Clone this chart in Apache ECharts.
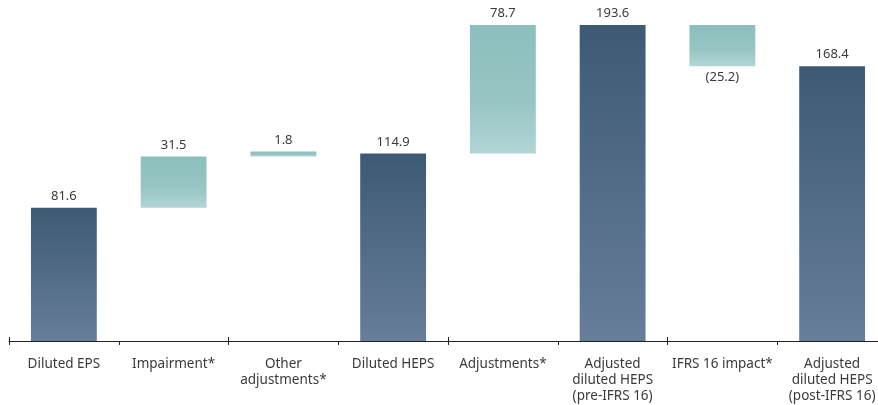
<!DOCTYPE html>
<html>
<head>
<meta charset="utf-8">
<script src="https://cdn.jsdelivr.net/npm/echarts@6/dist/echarts.min.js"></script>
<style>
  html, body { margin: 0; padding: 0; background: #fff; }
  #chart { width: 878px; height: 405px; }
</style>
</head>
<body>
<div id="chart"></div>
<script>
var categories = ['Diluted EPS', 'Impairment*', 'Other\nadjustments*', 'Diluted HEPS',
  'Adjustments*', 'Adjusted\ndiluted HEPS\n(pre-IFRS 16)', 'IFRS 16 impact*', 'Adjusted\ndiluted HEPS\n(post-IFRS 16)']
var values = [81.6, 31.5, 1.8, 114.9, 78.7, 193.6, -25.2, 168.4]
var isTotal = [true, false, false, true, false, true, false, true]

// waterfall: invisible base + visible part
var base = []
var visible = []
var running = 0
for (var i = 0; i < values.length; i++) {
  if (isTotal[i]) {
    base.push(0)
    visible.push(values[i])
    running = values[i]
  } else if (values[i] >= 0) {
    base.push(running)
    visible.push(values[i])
    running += values[i]
  } else {
    running += values[i]
    base.push(running)
    visible.push(-values[i])
  }
}

var darkFill = new echarts.graphic.LinearGradient(0, 0, 0, 1, [
  { offset: 0, color: '#3d5a75' },
  { offset: 1, color: '#677d99' }
])
var tealFill = new echarts.graphic.LinearGradient(0, 0, 0, 1, [
  { offset: 0, color: '#8bbfbd' },
  { offset: 0.6, color: '#97c5c3' },
  { offset: 1, color: '#b2d5d5' }
])

var font = 'Noto Sans'
var chart = echarts.init(document.getElementById('chart'))
chart.setOption({
  animation: false,
  grid: { left: 9, right: -9, top: 25, bottom: 64, outerBoundsMode: 'none' },
  xAxis: [
    {
      type: 'category',
      data: categories,
      axisLine: { lineStyle: { color: '#222', width: 1 } },
      axisTick: { show: true, length: 4, lineStyle: { color: '#222' } },
      axisLabel: {
        color: '#3a3a3a', fontFamily: font, fontSize: 13.5,
        lineHeight: 16, margin: 15, interval: 0
      }
    },
    {
      type: 'category',
      data: categories,
      position: 'bottom',
      axisLine: { show: false },
      axisTick: { show: true, inside: true, length: 4, lineStyle: { color: '#222' } },
      axisLabel: { show: false }
    }
  ],
  yAxis: { type: 'value', min: 0, max: 193.6, show: false },
  series: [
    {
      type: 'bar',
      stack: 'w',
      data: base,
      barWidth: '60%',
      itemStyle: { color: 'transparent' },
      silent: true
    },
    {
      type: 'bar',
      stack: 'w',
      barWidth: '60%',
      barMinHeight: 5,
      data: visible.map(function (v, i) {
        var neg = values[i] < 0
        return {
          value: v,
          itemStyle: { color: isTotal[i] ? darkFill : tealFill },
          label: {
            show: true,
            position: neg ? 'bottom' : 'top',
            distance: 5,
            color: '#3a3a3a',
            fontFamily: font,
            fontSize: 13,
            formatter: neg ? '(' + (-values[i]).toFixed(1) + ')' : values[i].toFixed(1)
          }
        }
      })
    }
  ]
})
</script>
</body>
</html>
